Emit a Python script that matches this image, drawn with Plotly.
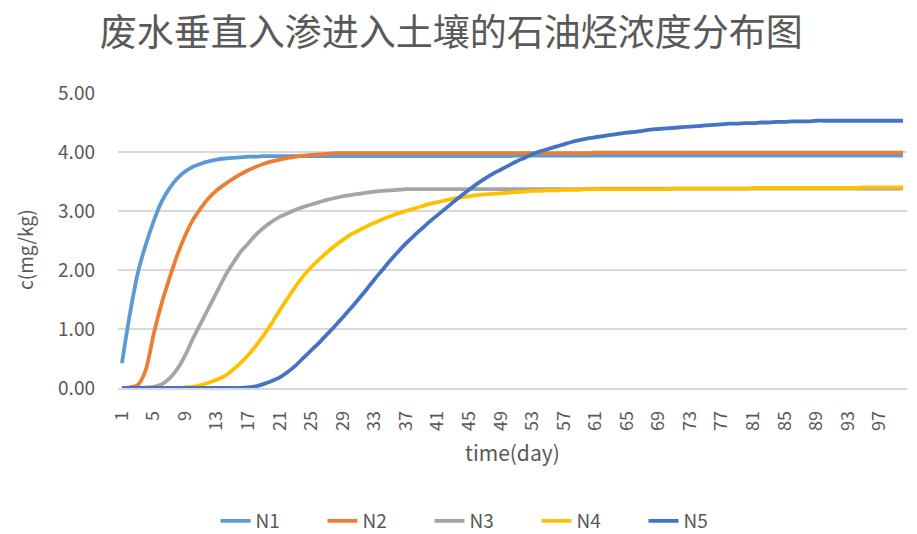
import plotly.graph_objects as go

# Simulation days (category axis 1..100)
days = list(range(1, 101))
tick_days = list(range(1, 98, 4))

# Petroleum hydrocarbon concentration c (mg/kg) at each observation point
N1 = [0.42, 1.25, 1.94, 2.42, 2.82, 3.15, 3.38, 3.55, 3.67, 3.75,
      3.80, 3.84, 3.87, 3.89, 3.90, 3.91, 3.92, 3.92, 3.93, 3.93,
      3.93, 3.93, 3.93, 3.93, 3.93, 3.93, 3.93, 3.93, 3.93, 3.93,
      3.93, 3.93, 3.93, 3.93, 3.93, 3.93, 3.93, 3.93, 3.93, 3.93,
      3.93, 3.93, 3.93, 3.93, 3.93, 3.93, 3.93, 3.93, 3.93, 3.93,
      3.94, 3.94, 3.94, 3.94, 3.94, 3.94, 3.94, 3.94, 3.94, 3.94,
      3.94, 3.94, 3.94, 3.94, 3.94, 3.94, 3.94, 3.94, 3.94, 3.94,
      3.94, 3.94, 3.94, 3.94, 3.94, 3.94, 3.94, 3.94, 3.94, 3.94,
      3.94, 3.94, 3.94, 3.94, 3.94, 3.94, 3.94, 3.94, 3.94, 3.94,
      3.94, 3.94, 3.94, 3.94, 3.94, 3.94, 3.94, 3.94, 3.94, 3.94]

N2 = [0.00, 0.01, 0.05, 0.30, 0.90, 1.42, 1.85, 2.25, 2.58, 2.85,
      3.05, 3.22, 3.35, 3.45, 3.54, 3.62, 3.69, 3.75, 3.80, 3.84,
      3.87, 3.90, 3.92, 3.94, 3.95, 3.96, 3.97, 3.98, 3.98, 3.98,
      3.98, 3.98, 3.98, 3.98, 3.98, 3.98, 3.98, 3.98, 3.98, 3.98,
      3.98, 3.98, 3.98, 3.98, 3.98, 3.98, 3.98, 3.98, 3.98, 3.98,
      3.98, 3.98, 3.98, 3.98, 3.98, 3.98, 3.98, 3.98, 3.98, 3.98,
      3.99, 3.99, 3.99, 3.99, 3.99, 3.99, 3.99, 3.99, 3.99, 3.99,
      3.99, 3.99, 3.99, 3.99, 3.99, 3.99, 3.99, 3.99, 3.99, 3.99,
      3.99, 3.99, 3.99, 3.99, 3.99, 3.99, 3.99, 3.99, 3.99, 3.99,
      3.99, 3.99, 3.99, 3.99, 3.99, 3.99, 3.99, 3.99, 3.99, 3.99]

N3 = [0.00, 0.00, 0.00, 0.01, 0.02, 0.06, 0.16, 0.32, 0.55, 0.84,
      1.10, 1.36, 1.62, 1.88, 2.10, 2.30, 2.45, 2.60, 2.72, 2.82,
      2.90, 2.96, 3.02, 3.07, 3.11, 3.15, 3.19, 3.22, 3.25, 3.27,
      3.29, 3.31, 3.33, 3.34, 3.35, 3.36, 3.37, 3.37, 3.37, 3.37,
      3.37, 3.37, 3.37, 3.37, 3.37, 3.37, 3.37, 3.37, 3.37, 3.37,
      3.37, 3.37, 3.37, 3.37, 3.37, 3.37, 3.37, 3.37, 3.37, 3.37,
      3.38, 3.38, 3.38, 3.38, 3.38, 3.38, 3.38, 3.38, 3.38, 3.38,
      3.38, 3.38, 3.38, 3.38, 3.38, 3.38, 3.38, 3.38, 3.38, 3.38,
      3.38, 3.38, 3.38, 3.38, 3.38, 3.38, 3.38, 3.38, 3.38, 3.38,
      3.38, 3.38, 3.38, 3.38, 3.38, 3.38, 3.38, 3.38, 3.38, 3.38]

N4 = [0.00, 0.00, 0.00, 0.00, 0.00, 0.00, 0.00, 0.00, 0.01, 0.02,
      0.05, 0.09, 0.14, 0.20, 0.30, 0.42, 0.56, 0.72, 0.90, 1.10,
      1.32, 1.52, 1.72, 1.90, 2.05, 2.18, 2.30, 2.41, 2.51, 2.60,
      2.67, 2.74, 2.80, 2.86, 2.91, 2.96, 3.00, 3.04, 3.08, 3.12,
      3.15, 3.18, 3.21, 3.23, 3.25, 3.27, 3.28, 3.29, 3.30, 3.31,
      3.32, 3.33, 3.34, 3.34, 3.35, 3.35, 3.36, 3.36, 3.36, 3.37,
      3.37, 3.37, 3.37, 3.37, 3.37, 3.37, 3.37, 3.37, 3.37, 3.37,
      3.38, 3.38, 3.38, 3.38, 3.38, 3.38, 3.38, 3.38, 3.38, 3.38,
      3.39, 3.39, 3.39, 3.39, 3.39, 3.39, 3.39, 3.39, 3.39, 3.39,
      3.39, 3.39, 3.39, 3.39, 3.40, 3.40, 3.40, 3.40, 3.40, 3.40]

N5 = [0.00, 0.00, 0.00, 0.00, 0.00, 0.00, 0.00, 0.00, 0.00, 0.00,
      0.00, 0.00, 0.00, 0.00, 0.00, 0.00, 0.01, 0.03, 0.07, 0.12,
      0.18, 0.27, 0.38, 0.51, 0.64, 0.77, 0.91, 1.05, 1.20, 1.35,
      1.51, 1.67, 1.84, 2.00, 2.16, 2.31, 2.45, 2.58, 2.70, 2.82,
      2.93, 3.04, 3.15, 3.26, 3.36, 3.46, 3.55, 3.63, 3.70, 3.77,
      3.84, 3.90, 3.96, 4.01, 4.05, 4.09, 4.13, 4.17, 4.20, 4.23,
      4.25, 4.27, 4.29, 4.31, 4.33, 4.34, 4.36, 4.38, 4.39, 4.40,
      4.41, 4.42, 4.43, 4.44, 4.45, 4.46, 4.47, 4.48, 4.48, 4.49,
      4.49, 4.50, 4.50, 4.51, 4.51, 4.52, 4.52, 4.52, 4.53, 4.53,
      4.53, 4.53, 4.53, 4.53, 4.53, 4.53, 4.53, 4.53, 4.53, 4.53]

series = [("N1", N1, "#5B9BD5"), ("N2", N2, "#ED7D31"), ("N3", N3, "#A5A5A5"),
          ("N4", N4, "#FFC000"), ("N5", N5, "#4472C4")]

FONT = "Noto Sans CJK SC"
TXT = "#595959"

fig = go.Figure()
for name, vals, color in series:
    fig.add_trace(go.Scatter(x=days, y=vals, name=name, mode="lines",
                             line=dict(color=color, width=3.8, shape="spline", smoothing=0.8)))

fig.update_layout(
    width=917, height=534,
    margin=dict(l=118, r=10, t=93, b=146, autoexpand=False),
    paper_bgcolor="white", plot_bgcolor="white",
    font=dict(family=FONT, color=TXT, size=19),
    title=dict(text="废水垂直入渗进入土壤的石油烃浓度分布图",
               x=0.492, xanchor="center", y=1 - 33 / 534, yanchor="middle",
               font=dict(family=FONT, size=37, color=TXT)),
    showlegend=True,
    legend=dict(orientation="h", xref="container", yref="container",
                x=483 / 917, xanchor="center", y=1 - 521 / 534, yanchor="middle",
                font=dict(family=FONT, size=19, color=TXT),
                entrywidth=62, entrywidthmode="pixels", bgcolor="rgba(0,0,0,0)"),
    xaxis=dict(range=[0.5, 100.5], tickmode="array", tickvals=tick_days,
               ticktext=[str(d) for d in tick_days], tickangle=-90,
               showgrid=False, zeroline=False, showline=True, automargin=False,
               linecolor="#D9D9D9", linewidth=1.5, ticks="",
               ticklabelstandoff=14, tickfont=dict(size=18, color=TXT)),
    yaxis=dict(range=[0, 5], tickvals=[0, 1, 2, 3, 4, 5], tickformat=".2f",
               showgrid=True, gridcolor="#D9D9D9", gridwidth=1.5, automargin=False,
               zeroline=False, showline=False, ticks="",
               ticklabelstandoff=22, tickfont=dict(size=19, color=TXT)),
    annotations=[
        dict(text="c(mg/kg)", xref="paper", yref="paper", x=(25 - 118) / 789, y=0.468,
             xanchor="center", yanchor="middle", textangle=-90, showarrow=False,
             font=dict(family=FONT, size=19, color=TXT)),
        dict(text="time(day)", xref="paper", yref="paper", x=0.5, y=(388 - 452) / 295,
             xanchor="center", yanchor="middle", showarrow=False,
             font=dict(family=FONT, size=21, color=TXT)),
    ],
)

fig.write_html("out.html")
